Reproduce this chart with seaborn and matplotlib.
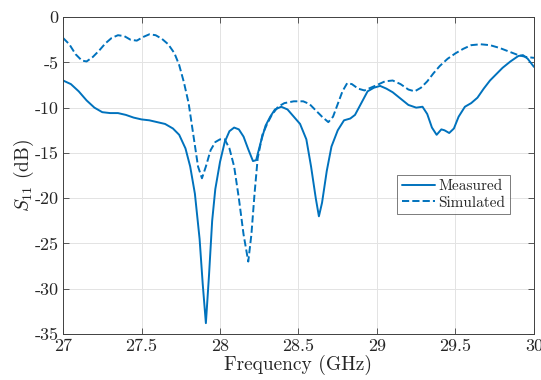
import numpy as np
import pandas as pd
import matplotlib
matplotlib.use("Agg")
import matplotlib.pyplot as plt
import seaborn as sns

# measured S11 (GHz, dB)
meas_freq = [27.00, 27.05, 27.10, 27.15, 27.20, 27.25, 27.30, 27.35, 27.40, 27.45,
             27.50, 27.55, 27.60, 27.65, 27.70, 27.74, 27.78, 27.81, 27.84, 27.87,
             27.89, 27.91, 27.93, 27.95, 27.97, 28.00, 28.03, 28.06, 28.09, 28.12,
             28.15, 28.18, 28.21, 28.23, 28.26, 28.29, 28.32, 28.35, 28.39, 28.43,
             28.47, 28.51, 28.55, 28.58, 28.61, 28.63, 28.65, 28.68, 28.71, 28.75,
             28.79, 28.83, 28.86, 28.90, 28.94, 28.98, 29.02, 29.06, 29.10, 29.15,
             29.20, 29.25, 29.29, 29.32, 29.35, 29.38, 29.41, 29.43, 29.46, 29.49,
             29.52, 29.56, 29.60, 29.64, 29.68, 29.72, 29.76, 29.80, 29.85, 29.90,
             29.93, 29.96, 30.00]
meas_s11 = [-7.0, -7.4, -8.2, -9.2, -10.0, -10.5, -10.6, -10.6, -10.8, -11.1,
            -11.3, -11.4, -11.6, -11.8, -12.3, -13.0, -14.5, -16.5, -19.5, -24.5,
            -29.5, -33.8, -28.5, -22.5, -19.0, -16.0, -13.8, -12.6, -12.2, -12.4,
            -13.2, -14.6, -15.9, -15.8, -13.8, -12.0, -11.0, -10.2, -9.9, -10.2,
            -11.0, -11.8, -13.5, -16.5, -20.0, -22.0, -20.5, -17.0, -14.3, -12.5,
            -11.4, -11.2, -10.8, -9.5, -8.2, -7.8, -7.6, -7.9, -8.3, -9.0,
            -9.7, -10.0, -9.9, -10.7, -12.2, -13.0, -12.4, -12.5, -12.8, -12.3,
            -11.0, -9.9, -9.5, -8.9, -7.9, -7.0, -6.3, -5.6, -4.9, -4.3,
            -4.2, -4.6, -5.5]

# simulated S11 (GHz, dB)
sim_freq = [27.00, 27.04, 27.08, 27.12, 27.15, 27.19, 27.23, 27.27, 27.31, 27.35,
            27.39, 27.43, 27.47, 27.51, 27.55, 27.59, 27.63, 27.67, 27.71, 27.74,
            27.77, 27.80, 27.83, 27.86, 27.885, 27.91, 27.94, 27.97, 28.00, 28.03,
            28.06, 28.09, 28.12, 28.15, 28.18, 28.20, 28.22, 28.24, 28.27, 28.30,
            28.33, 28.37, 28.41, 28.47, 28.53, 28.57, 28.61, 28.65, 28.69, 28.72,
            28.75, 28.78, 28.81, 28.84, 28.88, 28.92, 28.96, 29.00, 29.05, 29.10,
            29.15, 29.20, 29.24, 29.28, 29.32, 29.36, 29.40, 29.45, 29.50, 29.55,
            29.60, 29.66, 29.72, 29.78, 29.84, 29.90, 29.95, 30.00]
sim_s11 = [-2.3, -3.0, -4.1, -4.8, -4.9, -4.4, -3.7, -2.9, -2.3, -2.0,
           -2.1, -2.5, -2.6, -2.2, -1.9, -2.0, -2.4, -3.0, -4.0, -5.3,
           -7.2, -9.5, -13.0, -16.5, -17.8, -16.5, -14.7, -13.8, -13.5, -13.5,
           -14.5, -16.5, -20.0, -24.0, -27.0, -24.0, -19.5, -15.6, -13.0, -11.8,
           -10.8, -9.9, -9.5, -9.3, -9.3, -9.6, -10.3, -11.0, -11.6, -11.0,
           -9.6, -8.2, -7.3, -7.4, -7.9, -8.1, -7.8, -7.5, -7.1, -7.0,
           -7.4, -8.0, -8.2, -7.8, -7.1, -6.2, -5.4, -4.6, -4.0, -3.5,
           -3.1, -3.0, -3.1, -3.4, -3.8, -4.2, -4.4, -4.5]

x_ticks = [27, 27.5, 28, 28.5, 29, 29.5, 30]
y_ticks = [0, -5, -10, -15, -20, -25, -30, -35]

sns.set_theme(style="ticks")
plt.rcParams["font.family"] = ["cmr10", "DejaVu Serif"]
plt.rcParams["mathtext.fontset"] = "cm"
plt.rcParams["axes.unicode_minus"] = False
plt.rcParams["axes.formatter.use_mathtext"] = True

blue = "#0072BD"
df_meas = pd.DataFrame({"freq": meas_freq, "s11": meas_s11})
df_sim = pd.DataFrame({"freq": sim_freq, "s11": sim_s11})

fig, ax = plt.subplots(figsize=(5.41, 3.8), dpi=100)
fig.subplots_adjust(left=0.1165, right=0.987, top=0.955, bottom=0.121)

sns.lineplot(data=df_meas, x="freq", y="s11", ax=ax, color=blue, lw=1.4, label="Measured")
sns.lineplot(data=df_sim, x="freq", y="s11", ax=ax, color=blue, lw=1.4, linestyle="--",
             dashes=(2.3, 1.8), label="Simulated")

ax.set_xlim(27, 30)
ax.set_ylim(-35, 0)
ax.set_xticks(x_ticks)
ax.set_yticks(y_ticks)
ax.set_xticklabels([f"{t:g}" for t in x_ticks])
ax.set_yticklabels([f"{t:g}" for t in y_ticks])
ax.grid(True, color="#e3e3e3", lw=0.7)
ax.set_axisbelow(True)
ax.tick_params(direction="in", top=True, right=True, length=4, width=0.6,
               color="#404040", labelsize=13, pad=3)
for s in ax.spines.values():
    s.set_color("#404040")
    s.set_linewidth(0.7)

ax.set_xlabel("Frequency (GHz)", fontsize=14, labelpad=1)
ax.set_ylabel("$S_{11}$ (dB)", fontsize=14, labelpad=-1)

leg = ax.legend(loc="center right", bbox_to_anchor=(0.965, 0.44), fontsize=11,
                frameon=True, fancybox=False, handlelength=2.2, handletextpad=0.2,
                borderpad=0.3, labelspacing=0.2)
leg.get_frame().set_edgecolor("#404040")
leg.get_frame().set_linewidth(0.6)

fig.savefig("out.png", dpi=100)
